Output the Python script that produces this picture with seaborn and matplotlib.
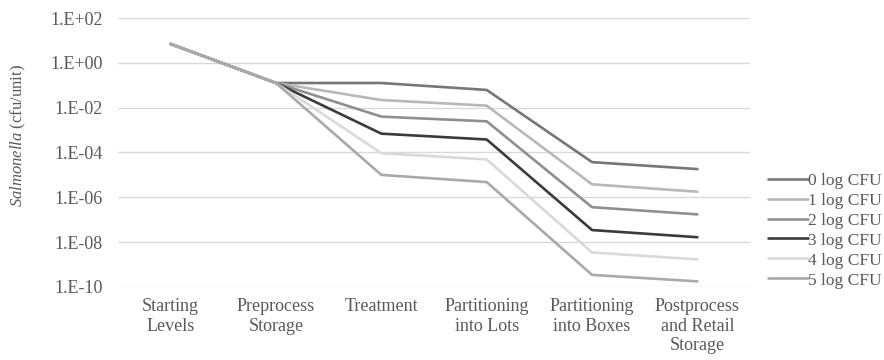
import numpy as np
import pandas as pd
import matplotlib
matplotlib.use("Agg")
import matplotlib.pyplot as plt
import seaborn as sns
from matplotlib.ticker import FixedLocator, FuncFormatter

stages = ["Starting\nLevels", "Preprocess\nStorage", "Treatment",
          "Partitioning\ninto Lots", "Partitioning\ninto Boxes",
          "Postprocess\nand Retail\nStorage"]

series_names = ["0 log CFU", "1 log CFU", "2 log CFU",
                "3 log CFU", "4 log CFU", "5 log CFU"]

# log10 Salmonella concentration (cfu/unit) at each stage
log_levels = {
    "0 log CFU": [0.84, -0.90, -0.90, -1.21, -4.43, -4.74],
    "1 log CFU": [0.84, -0.90, -1.66, -1.91, -5.42, -5.75],
    "2 log CFU": [0.84, -0.90, -2.40, -2.61, -6.44, -6.76],
    "3 log CFU": [0.84, -0.90, -3.16, -3.42, -7.46, -7.78],
    "4 log CFU": [0.84, -0.90, -4.03, -4.31, -8.46, -8.77],
    "5 log CFU": [0.84, -0.90, -5.00, -5.32, -9.46, -9.75],
}

colors = ["#767676", "#b8b8b8", "#8f8f8f", "#3a3a3a", "#d9d9d9", "#a9a9a9"]

rows = []
for name in series_names:
    for stage, lv in zip(stages, log_levels[name]):
        rows.append({"stage": stage, "series": name, "cfu": 10.0 ** lv})
df = pd.DataFrame(rows)

sns.set_theme(style="white")
plt.rcParams["font.family"] = ["Liberation Serif", "DejaVu Serif"]
plt.rcParams["mathtext.fontset"] = "custom"
plt.rcParams["mathtext.rm"] = "Liberation Serif"
plt.rcParams["mathtext.it"] = "Liberation Serif:italic"

text_color = "#595959"
fig = plt.figure(figsize=(8.84, 3.6), dpi=100)
ax = fig.add_axes([0.1335, 0.2028, 0.7150, 0.7472])

sns.lineplot(data=df, x="stage", y="cfu", hue="series", hue_order=series_names,
             palette=dict(zip(series_names, colors)), sort=False,
             linewidth=1.9, ax=ax, legend=True)

ax.set_yscale("log")
ax.set_ylim(1e-10, 1e2)
ax.set_xlim(-0.5, len(stages) - 0.5)
yt = [10.0 ** e for e in range(-10, 3, 2)]
ax.yaxis.set_major_locator(FixedLocator(yt))
ax.yaxis.set_minor_locator(FixedLocator([]))
ax.yaxis.set_major_formatter(FuncFormatter(
    lambda v, p: "1.E{:+03d}".format(int(round(np.log10(v))))))

ax.grid(axis="y", color="#d9d9d9", linewidth=1.0)
ax.grid(axis="x", visible=False)
for s in ax.spines.values():
    s.set_visible(False)
ax.tick_params(axis="both", length=0, labelsize=13, colors=text_color)
ax.tick_params(axis="y", pad=11)
ax.tick_params(axis="x", pad=8)
ax.set_xlabel("")
ax.set_ylabel(r"$\mathit{Salmonella}$ (cfu/unit)", fontsize=12,
              color=text_color)
ax.yaxis.set_label_coords(-0.1425, 0.565)

leg = ax.legend(loc="center left", bbox_to_anchor=(1.014, 0.21), frameon=False,
                fontsize=12.5, handlelength=2.3, handletextpad=0.05,
                labelspacing=0.22, borderpad=0)
for t in leg.get_texts():
    t.set_color(text_color)
for h in leg.get_lines():
    h.set_linewidth(1.9)

fig.savefig("out.png", dpi=100)
